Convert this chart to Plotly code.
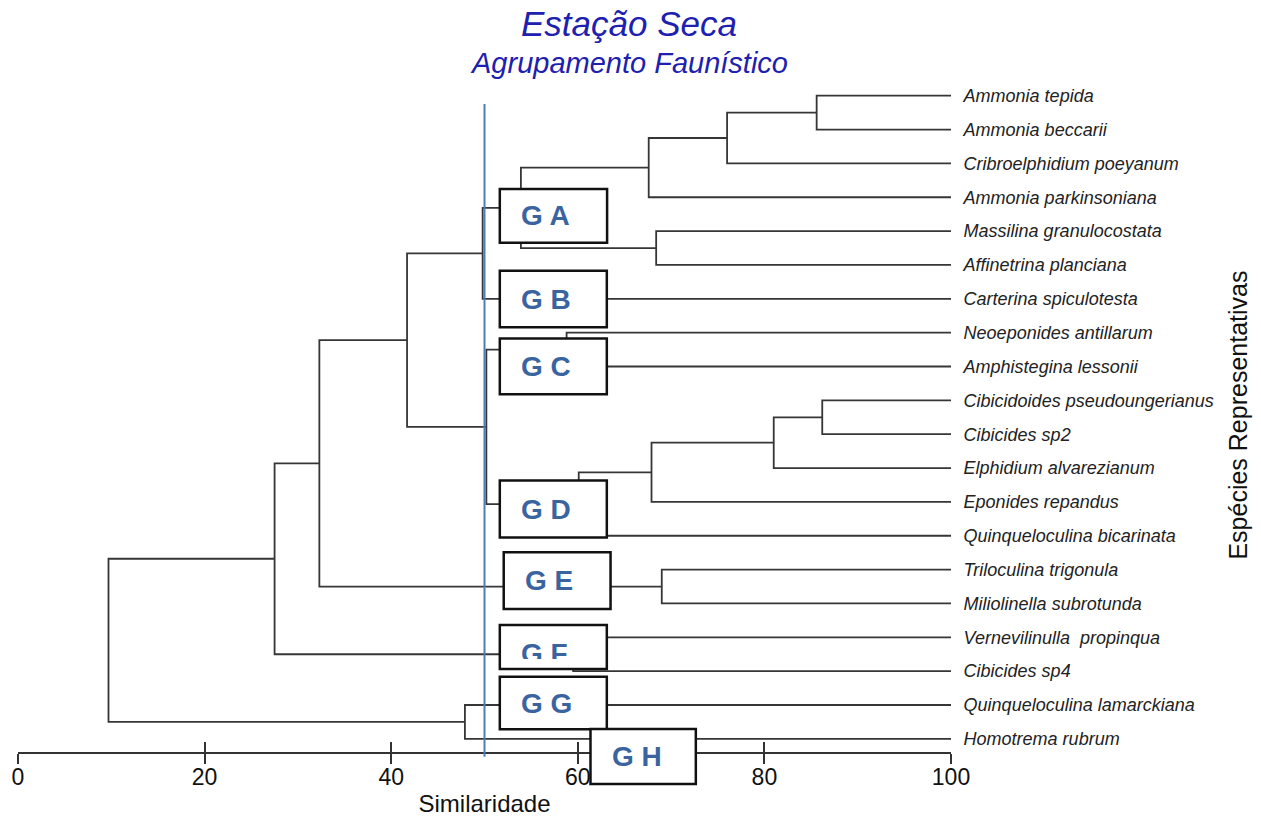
import plotly.graph_objects as go

# ---------------- data ----------------
species = [
    "Ammonia tepida", "Ammonia beccarii", "Cribroelphidium poeyanum", "Ammonia parkinsoniana",
    "Massilina granulocostata", "Affinetrina planciana", "Carterina spiculotesta",
    "Neoeponides antillarum", "Amphistegina lessonii", "Cibicidoides pseudoungerianus",
    "Cibicides sp2", "Elphidium alvarezianum", "Eponides repandus",
    "Quinqueloculina bicarinata", "Triloculina trigonula", "Miliolinella subrotunda",
    "Vernevilinulla\u00a0 propinqua", "Cibicides sp4", "Quinqueloculina lamarckiana",
    "Homotrema rubrum",
]
# linkage: merge k creates node id len(species)+k
merge_left = [0, 20, 21, 4, 22, 24, 7, 9, 27, 28, 29, 26, 25, 14, 32, 16, 34, 18, 36]
merge_right = [1, 2, 3, 5, 23, 6, 8, 10, 11, 12, 13, 30, 31, 15, 33, 17, 35, 19, 37]
merge_similarity = [85.6, 76.0, 67.6, 68.4, 53.9, 49.8, 58.8, 86.2, 81.0, 67.9,
                    60.1, 50.2, 41.7, 69.0, 32.3, 59.5, 27.5, 47.9, 9.7]
group_labels = ["G A", "G B", "G C", "G D", "G E", "G F", "G G", "G H"]
cut_similarity = 50.0
x_ticks = [0, 20, 40, 60, 80, 100]

# ---------------- layout constants ----------------
XMIN, XMAX = 0, 100
YTOP, YBOT = -1.0547, 19.388
# group boxes: (x0, x1, y0, y1) in similarity / leaf-index units
group_boxes = [
    (51.64, 63.14, 2.756, 4.343),
    (51.64, 63.11, 5.170, 6.842),
    (51.64, 63.11, 7.173, 8.821),
    (51.64, 63.11, 11.368, 13.052),
    (52.06, 63.51, 13.489, 15.164),
    (51.64, 63.11, 15.637, 16.937),
    (51.64, 63.11, 17.164, 18.718),
    (61.36, 72.65, 18.709, 20.334),
]


def xp(v):
    return (v - XMIN) / (XMAX - XMIN)


def yp(i):
    return (YBOT - i) / (YBOT - YTOP)


# ---------------- build dendrogram segments ----------------
n = len(species)
node_x = {i: 100.0 for i in range(n)}
node_y = {i: float(i) for i in range(n)}
xs, ys = [], []
for k, (a, b, h) in enumerate(zip(merge_left, merge_right, merge_similarity)):
    nid = n + k
    node_x[nid] = h
    node_y[nid] = (node_y[a] + node_y[b]) / 2
    xs += [node_x[a], h, h, node_x[b], None]
    ys += [node_y[a], node_y[a], node_y[b], node_y[b], None]

fig = go.Figure()
fig.add_trace(go.Scatter(x=xs, y=ys, mode="lines",
                         line=dict(color="#363636", width=1.8),
                         hoverinfo="skip", showlegend=False))
fig.add_trace(go.Scatter(x=[None], y=[None], xaxis="x2", showlegend=False,
                         hoverinfo="skip"))

FONT = "Arial, Liberation Sans, sans-serif"

shapes = []
# cut line
shapes.append(dict(type="line", xref="paper", yref="paper",
                   x0=xp(cut_similarity), x1=xp(cut_similarity),
                   y0=yp(0.245), y1=yp(19.53),
                   line=dict(color="#4A7EBB", width=2), layer="above"))
annotations = []
for lab, (x0, x1, y0, y1) in zip(group_labels, group_boxes):
    shapes.append(dict(type="rect", xref="paper", yref="paper",
                       x0=xp(x0), x1=xp(x1), y0=yp(y1), y1=yp(y0),
                       fillcolor="white", line=dict(color="#111111", width=2.5),
                       layer="above"))
    if lab == "G F":
        annotations.append(dict(x=xp(x0 + 2.1), y=yp(15.974), xref="paper", yref="paper",
                                text="<b>%s</b>" % lab, showarrow=False,
                                xanchor="left", yanchor="top", height=21,
                                valign="top",
                                font=dict(family=FONT, size=28, color="#3A64A0")))
    else:
        annotations.append(dict(x=xp(x0 + 2.1), y=yp((y0 + y1) / 2),
                                xref="paper", yref="paper",
                                text="<b>%s</b>" % lab, showarrow=False,
                                xanchor="left", yanchor="middle",
                                font=dict(family=FONT, size=28, color="#3A64A0")))

# titles
annotations.append(dict(x=(629 - 18) / 933, y=(752 - 24) / 692, xref="paper", yref="paper",
                        text="Estação Seca", showarrow=False, xanchor="center",
                        yanchor="middle",
                        font=dict(family=FONT, size=35, color="#2020B0", style="italic")))
annotations.append(dict(x=(629 - 18) / 933, y=(752 - 63) / 692, xref="paper", yref="paper",
                        text="Agrupamento Faunístico", showarrow=False, xanchor="center",
                        yanchor="middle",
                        font=dict(family=FONT, size=29, color="#2020B0", style="italic")))
annotations.append(dict(x=(1238 - 18) / 933, y=yp(9.45), xref="paper", yref="paper",
                        text="Espécies Representativas", showarrow=False, textangle=-90,
                        xanchor="center", yanchor="middle",
                        font=dict(family=FONT, size=25, color="#111111")))

fig.update_layout(
    width=1261, height=817,
    margin=dict(l=18, r=310, t=60, b=65),
    paper_bgcolor="white", plot_bgcolor="white",
    showlegend=False,
    xaxis=dict(range=[XMIN, XMAX], tickvals=x_ticks, ticks="outside", ticklen=10,
               tickwidth=1.5, tickcolor="#333333", showline=True, linewidth=1.5,
               linecolor="#333333", showgrid=False, zeroline=False, automargin=False,
               ticklabelstandoff=-6,
               tickfont=dict(family=FONT, size=23, color="#111111"),
               title=dict(text="Similaridade", standoff=14,
                          font=dict(family=FONT, size=24, color="#111111"))),
    xaxis2=dict(range=[XMIN, XMAX], overlaying="x", anchor="y", side="bottom",
                tickvals=x_ticks, ticks="inside", ticklen=10, tickwidth=1.5,
                tickcolor="#333333", showticklabels=False, showline=False,
                showgrid=False, zeroline=False, automargin=False),
    yaxis=dict(range=[YBOT, YTOP], side="right", tickvals=list(range(n)),
               ticktext=species, ticks="outside", ticklen=8, automargin=False,
               tickcolor="rgba(0,0,0,0)", showline=False, showgrid=False,
               zeroline=False,
               tickfont=dict(family=FONT, size=18, color="#222222", style="italic")),
    shapes=shapes,
    annotations=annotations,
)

fig.write_html("out.html")
